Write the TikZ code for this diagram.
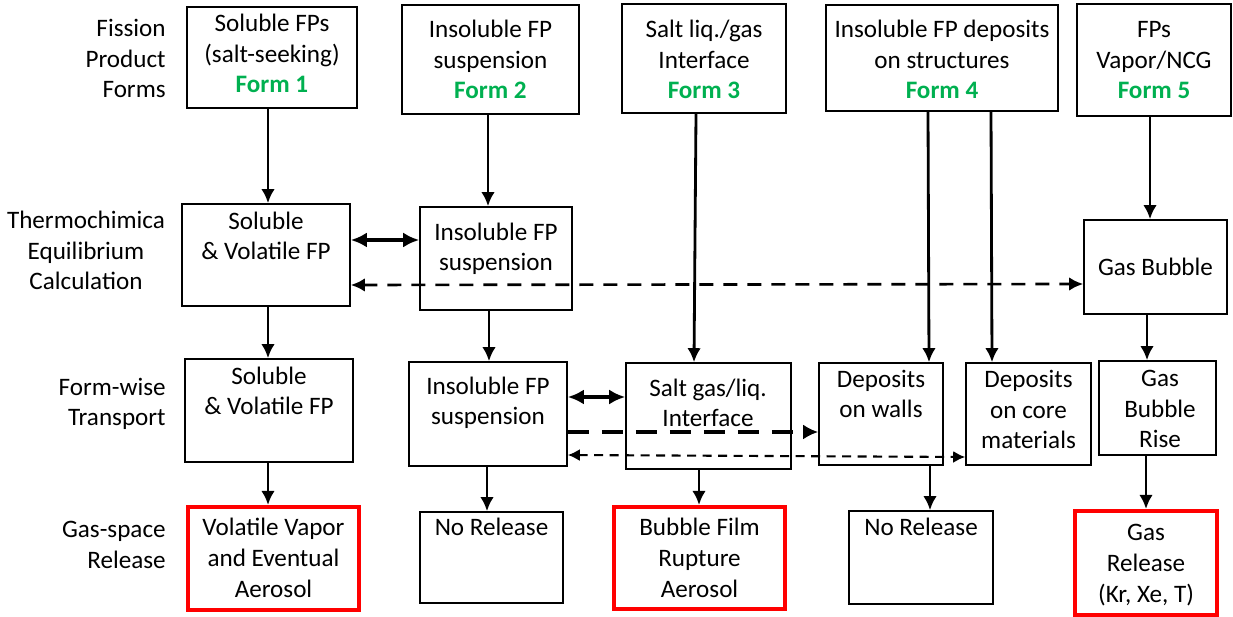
\documentclass[tikz,border=0pt]{standalone}
\usepackage{fontspec}
\setmainfont{Carlito}
\usepackage{tikz}
\usetikzlibrary{arrows.meta}
\usetikzlibrary{positioning}
\usetikzlibrary{fit}
\usepackage{xcolor}
\definecolor{formgreen}{RGB}{0,176,80}
\definecolor{relred}{RGB}{255,0,0}
\newcommand{\formtag}[1]{\textcolor{formgreen}{\textbf{Form #1}}}
\tikzset{
  % arrow tips
  >={Latex[length=0.28cm,width=0.27cm]},
  % boxes and their texts (texts sit on the baseline of their last line)
  box/.style={draw, line width=0.9pt, inner sep=0pt, fit={#1}},
  relbox/.style={draw=relred, line width=2.3pt, inner sep=0pt, fit={#1}},
  txt/.style={align=center, inner sep=0pt, anchor=base},
  rowlbl/.style={align=right, inner sep=0pt, anchor=base east},
  % connectors
  line/.style={draw, ->, line width=1.6pt},
  twoway/.style={draw, <->, line width=2pt, >={Latex[length=0.32cm,width=0.3cm]}},
  dashboth/.style={draw, <->, line width=1.5pt, dash pattern=on 0.28cm off 0.2cm},
  dashthick/.style={draw, ->, line width=2.8pt, dash pattern=on 0.42cm off 0.26cm, >={Latex[length=0.3cm,width=0.3cm]}},
  dashthin/.style={draw, <->, line width=1.2pt, dash pattern=on 0.18cm off 0.13cm, >={Latex[length=0.24cm,width=0.24cm]}}
}

\begin{document}
\begin{tikzpicture}[x=0.02cm, y=-0.02cm, font=\fontsize{14.3}{17.4}\selectfont]
  \useasboundingbox (0,0) rectangle (1233,617);

  % Row labels
  \node[rowlbl] (lforms) at (166,98) {Fission\\Product\\Forms};
  \node[txt] (lthermo) at (86,290) {Thermochimica\\Equilibrium\\Calculation};
  \node[rowlbl] (ltrans) at (166,426) {Form-wise\\Transport};
  \node[rowlbl] (lrel) at (166,568) {Gas-space\\Release};

  % Fission product forms
  \node[box={(187,7) (357,108)}] (f1) {};
  \node[txt] (f1t) at (272,93) {Soluble FPs\\(salt-seeking)\\\formtag{1}};
  \node[box={(402,5) (579,114)}] (f2) {};
  \node[txt] (f2t) at (490.5,99) {Insoluble FP\\suspension\\\formtag{2}};
  \node[box={(622,4) (786,113)}] (f3) {};
  \node[txt] (f3t) at (704,99) {Salt liq./gas\\Interface\\\formtag{3}};
  \node[box={(826,5) (1058,111)}] (f4) {};
  \node[txt] (f4t) at (942,99) {Insoluble FP deposits\\on structures\\\formtag{4}};
  \node[box={(1077,4) (1231,116)}] (f5) {};
  \node[txt] (f5t) at (1154,99) {FPs\\Vapor/NCG\\\formtag{5}};

  % Equilibrium calculation
  \node[box={(182,204) (350,306)}] (s2) {};
  \node[txt] (s2t) at (266,260) {Soluble\\\& Volatile FP};
  \node[box={(420,207) (572,310)}] (i2) {};
  \node[txt] (i2t) at (496,271) {Insoluble FP\\suspension};
  \node[box={(1084,220) (1227,314)}] (gb) {};
  \node[txt] (gbt) at (1155.5,276) {Gas Bubble};

  % Transport
  \node[box={(185,359) (353,462)}] (s3) {};
  \node[txt] (s3t) at (269,415) {Soluble\\\& Volatile FP};
  \node[box={(409,362) (567,466)}] (i3) {};
  \node[txt] (i3t) at (488,425) {Insoluble FP\\suspension};
  \node[box={(626,363) (791,469)}] (sl) {};
  \node[txt] (slt) at (708,427) {Salt gas/liq.\\Interface};
  \node[box={(819,363) (943,465)}] (dw) {};
  \node[txt] (dwt) at (881,418) {Deposits\\on walls};
  \node[box={(966,363) (1091,465)}] (dc) {};
  \node[txt] (dct) at (1028.5,449) {Deposits\\on core\\materials};
  \node[box={(1099,361) (1216,455)}] (gr) {};
  \node[txt] (grt) at (1160,448) {Gas\\Bubble\\Rise};

  % Release
  \node[relbox={(188,507) (359,610)}] (vv) {};
  \node[txt] (vvt) at (273.5,597) {Volatile Vapor\\and Eventual\\Aerosol};
  \node[box={(420,512) (563,603)}] (nr1) {};
  \node[txt] (nr1t) at (491.5,536) {No Release};
  \node[relbox={(614,507) (785,609)}] (bf) {};
  \node[txt] (bft) at (699.5,597) {Bubble Film\\Rupture\\Aerosol};
  \node[box={(849,511) (993,604)}] (nr2) {};
  \node[txt] (nr2t) at (921,536) {No Release};
  \node[relbox={(1075,511) (1217,615)}] (gs) {};
  \node[txt] (gst) at (1146,602) {Gas\\Release\\(Kr, Xe, T)};

  % Forms to calculation / transport
  \path[line] (f1.south -| 268,0) -- (s2.north -| 268,0);
  \path[line] (f2.south -| 488,0) -- (i2.north -| 488,0);
  \path[line] (f3.south -| 696,0) -- (sl.north -| 694,0);
  \path[line] (f4.south -| 928,0) -- (dw.north -| 929,0);
  \path[line] (f4.south -| 991,0) -- (dc.north -| 992,0);
  \path[line] (f5.south -| 1150,0) -- (gb.north -| 1150,0);

  % Exchanges
  \path[twoway] (s2.east |- 0,240) -- (i2.west |- 0,240);
  \path[dashboth] (s2.east |- 0,285) -- (gb.west |- 0,284);
  \path[twoway] (i3.east |- 0,397) -- (sl.west |- 0,397);
  \path[dashthick] (i3.east |- 0,432) -- (dw.west |- 0,432);
  \path[dashthin] (i3.east |- 0,455) -- (dc.west |- 0,457);

  % Calculation to transport
  \path[line] (s2.south -| 268,0) -- (s3.north -| 268,0);
  \path[line] (i2.south -| 489,0) -- (i3.north -| 489,0);
  \path[line] (gb.south -| 1147,0) -- (gr.north -| 1147,0);

  % Transport to release
  \path[line] (s3.south -| 268,0) -- (vv.north -| 268,0);
  \path[line] (i3.south -| 487,0) -- (nr1.north -| 487,0);
  \path[line] (sl.south -| 699,0) -- (bf.north -| 699,0);
  \path[line] (dw.south -| 930,0) -- (nr2.north -| 930,0);
  \path[line] (gr.south -| 1146,0) -- (gs.north -| 1146,0);
\end{tikzpicture}
\end{document}
